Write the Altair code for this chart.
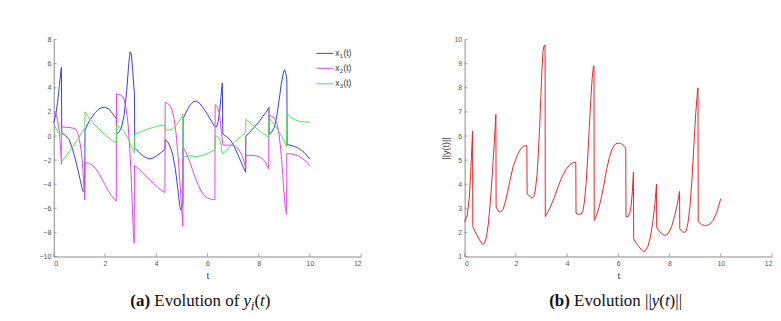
import altair as alt
import pandas as pd

# ---------------- data ----------------
t_x1 = [0, 0.08, 0.15, 0.22, 0.28, 0.30, 0.31, 0.45, 0.60, 0.72, 0.84, 0.95, 1.04, 1.10, 1.15, 1.19, 1.21,
        1.22, 1.40, 1.62, 1.80, 1.98, 2.15, 2.30, 2.44,
        2.45, 2.55, 2.65, 2.75, 2.85, 2.92, 2.98, 3.03, 3.08, 3.12, 3.15,
        3.16, 3.30, 3.45, 3.60, 3.75, 3.90, 4.05, 4.20, 4.34,
        4.35, 4.45, 4.55, 4.65, 4.75, 4.85, 4.92, 4.96, 5.00, 5.04,
        5.05, 5.15, 5.30, 5.45, 5.57, 5.70, 5.83, 6.00, 6.15, 6.28, 6.35, 6.42, 6.48, 6.53, 6.58,
        6.60, 6.75, 6.92, 7.05, 7.18, 7.30, 7.40, 7.49,
        7.50, 7.65, 7.83, 8.00, 8.15, 8.30, 8.40,
        8.41, 8.50, 8.61, 8.70, 8.80, 8.88, 8.96, 9.01, 9.06, 9.10,
        9.11, 9.30, 9.51, 9.77, 10.0]
v_x1 = [1.1, 1.8, 2.8, 4.2, 5.4, 5.7, 0.25, 0.05, -0.3, -1.0, -1.9, -2.9, -3.7, -4.3, -4.6, -4.6, -4.3,
        0.5, 1.3, 1.95, 2.3, 2.4, 2.25, 1.85, 1.45,
        0.1, 0.35, 0.75, 1.8, 3.8, 5.8, 7.0, 6.8, 5.5, 4.2, 3.6,
        -1.0, -1.3, -1.6, -1.8, -1.9, -1.8, -1.6, -1.35, -1.1,
        -0.3, -0.5, -0.9, -1.6, -2.8, -4.5, -5.8, -6.15, -5.9, -5.6,
        1.45, 1.9, 2.5, 2.85, 2.9, 2.7, 2.35, 1.8, 1.25, 0.8, 0.75, 1.2, 2.1, 3.3, 4.4,
        0.15, -0.05, -0.4, -0.9, -1.5, -2.1, -2.6, -3.0,
        0.0, 0.3, 0.75, 1.15, 1.6, 2.0, 2.38,
        0.15, 0.3, 0.7, 1.6, 3.0, 4.3, 5.2, 5.5, 5.2, 4.7,
        -0.7, -0.8, -0.95, -1.35, -1.9]

t_x2 = [0, 0.08, 0.15, 0.22, 0.27, 0.30,
        0.31, 0.50, 0.70, 0.84, 0.93, 1.00, 1.07, 1.12, 1.16, 1.19, 1.21,
        1.22, 1.35, 1.50, 1.65, 1.80, 1.95, 2.10, 2.25, 2.35, 2.44,
        2.45, 2.55, 2.65, 2.75, 2.83, 2.90, 2.96, 3.02, 3.07, 3.11, 3.14,
        3.15, 3.30, 3.45, 3.60, 3.75, 3.90, 4.05, 4.20, 4.34,
        4.35, 4.45, 4.55, 4.63, 4.70, 4.77, 4.84, 4.90, 4.96, 5.01, 5.04,
        5.05, 5.15, 5.25, 5.35, 5.45, 5.55, 5.65, 5.75, 5.88, 6.00, 6.15, 6.29,
        6.30, 6.38, 6.45, 6.50, 6.55, 6.60, 6.80, 7.00, 7.10, 7.20, 7.30, 7.40, 7.49,
        7.50, 7.70, 7.90, 8.05, 8.20, 8.30, 8.39,
        8.40, 8.50, 8.60, 8.70, 8.78, 8.85, 8.92, 8.98, 9.04, 9.09,
        9.10, 9.30, 9.50, 9.70, 9.85, 10.0]
v_x2 = [2.0, 1.9, 1.3, 0.3, -1.2, -2.35,
        0.75, 0.72, 0.68, 0.6, 0.3, -0.3, -1.2, -2.3, -3.6, -4.8, -5.3,
        -2.2, -2.25, -2.4, -2.75, -3.25, -3.85, -4.45, -4.95, -5.2, -5.4,
        3.5, 3.45, 3.35, 3.0, 2.2, 1.0, -0.8, -3.2, -6.0, -8.2, -8.9,
        -2.45, -2.7, -3.0, -3.35, -3.65, -3.95, -4.25, -4.5, -4.7,
        2.8, 2.7, 2.5, 2.1, 1.4, 0.3, -1.3, -3.0, -4.9, -6.6, -7.5,
        -0.95, -1.3, -1.8, -2.4, -3.0, -3.6, -4.1, -4.55, -4.95, -5.15, -5.25, -5.3,
        2.6, 2.45, 2.0, 1.3, 0.2, -0.75, -0.75, -0.78, -0.85, -1.05, -1.4, -1.9, -2.6,
        -1.6, -1.6, -1.65, -1.75, -2.0, -2.3, -2.75,
        1.7, 1.65, 1.5, 1.15, 0.4, -0.9, -2.6, -4.5, -6.0, -6.5,
        -1.45, -1.5, -1.6, -1.85, -2.1, -2.5]

t_x3 = [0, 0.10, 0.20, 0.30,
        0.31, 0.60, 0.90, 1.21,
        1.22, 1.40, 1.60, 1.80, 2.00, 2.20, 2.44,
        2.45, 2.60, 2.75, 2.90, 3.00, 3.08, 3.14,
        3.15, 3.40, 3.70, 4.00, 4.34,
        4.35, 4.50, 4.62, 4.75, 4.88, 5.00, 5.04,
        5.05, 5.30, 5.55, 5.75, 5.95, 6.15, 6.29,
        6.30, 6.42, 6.50, 6.58,
        6.60, 7.00, 7.49,
        7.50, 7.80, 8.10, 8.39,
        8.40, 8.60, 8.80, 8.95, 9.09,
        9.10, 9.25, 9.40, 9.60, 9.80, 10.0]
v_x3 = [0.95, 0.6, 0.2, 0.0,
        -2.15, -1.3, -0.4, 0.7,
        2.0, 1.45, 0.95, 0.5, 0.1, -0.25, -0.6,
        0.9, 0.7, 0.35, -0.2, -0.7, -1.15, -1.4,
        0.1, 0.35, 0.6, 0.8, 0.92,
        0.5, 0.5, 0.55, 0.8, 1.2, 1.6, 1.85,
        -1.75, -1.65, -1.7, -1.65, -1.5, -1.3, -1.15,
        0.05, -0.1, -0.4, -1.45,
        -1.5, -0.6, 0.3,
        1.4, 0.85, 0.3, -0.1,
        1.5, 1.0, 0.35, -0.2, -0.9,
        1.9, 1.55, 1.35, 1.22, 1.17, 1.15]

t_norm = [0, 0.10, 0.18, 0.24, 0.28, 0.31,
          0.32, 0.40, 0.50, 0.60, 0.70, 0.78, 0.85, 0.92, 1.00, 1.08, 1.15, 1.20, 1.22,
          1.23, 1.30, 1.40, 1.50, 1.60, 1.70, 1.80, 1.90, 2.00, 2.10, 2.20, 2.30, 2.43,
          2.44, 2.55, 2.63, 2.70, 2.76, 2.83, 2.88, 2.93, 2.98, 3.02, 3.06, 3.10, 3.14,
          3.15, 3.25, 3.35, 3.50, 3.65, 3.80, 3.95, 4.10, 4.20, 4.34,
          4.35, 4.45, 4.55, 4.62, 4.68, 4.74, 4.80, 4.86, 4.92, 4.98, 5.03, 5.05,
          5.06, 5.15, 5.25, 5.35, 5.45, 5.55, 5.65, 5.75, 5.85, 5.95, 6.05, 6.15, 6.29,
          6.30, 6.38, 6.45, 6.50, 6.55, 6.59,
          6.60, 6.70, 6.80, 6.90, 6.98, 7.05, 7.15, 7.25, 7.35, 7.43, 7.49,
          7.50, 7.60, 7.70, 7.80, 7.90, 8.00, 8.10, 8.20, 8.30, 8.39,
          8.40, 8.50, 8.58, 8.65, 8.72, 8.80, 8.88, 8.95, 9.02, 9.08, 9.11,
          9.12, 9.25, 9.40, 9.55, 9.70, 9.85, 10.0]
v_norm = [2.45, 2.7, 3.4, 4.5, 5.5, 6.2,
          2.25, 2.05, 1.85, 1.65, 1.5, 1.55, 1.8, 2.3, 3.2, 4.4, 5.6, 6.5, 6.9,
          3.05, 2.9, 2.84, 2.95, 3.3, 3.8, 4.3, 4.75, 5.05, 5.3, 5.48, 5.58, 5.6,
          3.6, 3.5, 3.42, 3.48, 3.75, 4.4, 5.3, 6.4, 7.7, 8.8, 9.5, 9.75, 9.78,
          2.66, 2.85, 3.05, 3.45, 3.9, 4.3, 4.6, 4.8, 4.88, 4.92,
          2.8, 2.75, 2.76, 2.9, 3.3, 4.0, 5.0, 6.2, 7.4, 8.4, 8.9, 8.92,
          2.5, 2.7, 3.05, 3.5, 4.05, 4.65, 5.1, 5.45, 5.63, 5.7, 5.7, 5.66, 5.5,
          2.66, 2.65, 2.8, 3.1, 3.7, 4.5,
          1.73, 1.55, 1.42, 1.28, 1.2, 1.23, 1.4, 1.8, 2.45, 3.2, 4.0,
          2.2, 2.05, 1.95, 1.88, 1.9, 2.05, 2.3, 2.7, 3.15, 3.7,
          2.15, 2.02, 2.0, 2.05, 2.4, 3.1, 4.3, 5.6, 6.9, 7.7, 8.0,
          2.45, 2.32, 2.28, 2.32, 2.5, 2.85, 3.4]

series_names = ["x1", "x2", "x3"]
legend_subscripts = ["1", "2", "3"]
series_colors = ["#3c3cd8", "#e845e8", "#55e055"]
norm_color = "#e4282c"

x_ticks_left = [0, 2, 4, 6, 8, 10, 12]
y_ticks_left = [-10, -8, -6, -4, -2, 0, 2, 4, 6, 8]
x_ticks_right = [0, 2, 4, 6, 8, 10, 12]
y_ticks_right = [1, 2, 3, 4, 5, 6, 7, 8, 9, 10]

# ---------------- tables ----------------
def mk(name, ts, vs):
    return pd.DataFrame({"t": ts, "v": vs, "series": name, "idx": list(range(len(ts)))})

lines_df = pd.concat([mk(n, t, v) for n, t, v in
                      zip(series_names, [t_x1, t_x2, t_x3], [v_x1, v_x2, v_x3])], ignore_index=True)
norm_df = mk("norm", t_norm, v_norm)

W, H = 309, 218
AXF = "Liberation Sans"
SERIF = "Liberation Serif"
AX_COLOR = "#8a8a8a"
LBL_COLOR = "#555555"

def axis(values, title=None, **kw):
    args = dict(values=values, ticks=False, grid=False, domainColor=AX_COLOR, labelColor=LBL_COLOR,
                labelFontSize=7, labelFont=AXF, labelPadding=3, titleFont=AXF, titleFontSize=10,
                titleFontWeight="normal", titleColor="#444444")
    args.update(kw)
    args["title"] = title if title is not None else None
    return alt.Axis(**args)

one = pd.DataFrame({"a": [0]})

SERIF_W = {
    "regular": {'(': 333, ')': 333, ' ': 250, 'E': 611, 'v': 500, 'o': 500, 'l': 278, 'u': 500,
                't': 278, 'i': 278, 'n': 500, 'f': 333, '|': 200},
    "bold": {'(': 333, ')': 333, 'a': 500, 'b': 556, ' ': 250},
    "italic": {'y': 444, 't': 278, 'i': 278},
}
SANS_W = {"regular": {'x': 500, '1': 556, '2': 556, '3': 556, '(': 333, ')': 333, 't': 278}}

def text_run(pieces, x0, y0, font, table, size, color, gap=0.0):
    layers = []
    x = x0
    for text, style, fs, dy in pieces:
        fs = fs or size
        w = sum(table[style].get(c, 500) for c in text) * fs / 1000.0
        stripped = text.lstrip()
        lead = sum(table[style].get(c, 500) for c in text[:len(text) - len(stripped)]) * fs / 1000.0
        shown = text.strip()
        if shown:
            mk_args = dict(text=shown, font=font, fontSize=fs, align="left", baseline="alphabetic",
                           color=color)
            if style == "bold":
                mk_args["fontWeight"] = "bold"
            if style == "italic":
                mk_args["fontStyle"] = "italic"
            layers.append(alt.Chart(one).mark_text(**mk_args).encode(
                x=alt.value(x + lead), y=alt.value(y0 + dy)))
        x += w + gap
    return layers

# ---------------- left panel ----------------
xl = alt.X("t:Q", scale=alt.Scale(domain=[0, 12], nice=False), axis=axis(x_ticks_left, "t", titlePadding=4))
yl = alt.Y("v:Q", scale=alt.Scale(domain=[-10, 8], nice=False), axis=axis(y_ticks_left))

lines = alt.Chart(lines_df).mark_line(strokeWidth=1).encode(
    x=xl, y=yl,
    color=alt.Color("series:N", scale=alt.Scale(domain=series_names, range=series_colors), legend=None),
    order="idx:Q")

xt_l = alt.Chart(pd.DataFrame({"t": x_ticks_left})).mark_rule(color=AX_COLOR, strokeWidth=0.8).encode(
    x=xl, y=alt.value(H), y2=alt.value(H - 3))
yt_l = alt.Chart(pd.DataFrame({"v": y_ticks_left})).mark_rule(color=AX_COLOR, strokeWidth=0.8).encode(
    y=yl, x=alt.value(0), x2=alt.value(3))

leg_layers = []
for i, (sub, col) in enumerate(zip(legend_subscripts, series_colors)):
    yy = [13.8, 28.8, 44.4][i]
    leg_layers.append(alt.Chart(one).mark_rule(color=col, strokeWidth=1).encode(
        x=alt.value(264), x2=alt.value(281), y=alt.value(yy)))
    leg_layers += text_run([("x", "regular", 8.5, 0), (sub, "regular", 6, 2), ("(t)", "regular", 8.5, 0)],
                           283, yy + 2.5, AXF, SANS_W, 8.5, "#333333", gap=0.3)

cap_a = [("(a)", "bold", None, 0), (" Evolution of ", "regular", None, 0), ("y", "italic", None, 0),
         ("i", "italic", 12, 4), ("(", "regular", None, 0), ("t", "italic", None, 0),
         (")", "regular", None, 0)]
cap_left = text_run(cap_a, 77, 268, SERIF, SERIF_W, 17, "#111111")

left = alt.layer(lines, xt_l, yt_l, *leg_layers, *cap_left).properties(width=W, height=H)

# ---------------- right panel ----------------
xr = alt.X("t:Q", scale=alt.Scale(domain=[0, 12], nice=False), axis=axis(x_ticks_right, "t", titlePadding=4))
yr = alt.Y("v:Q", scale=alt.Scale(domain=[1, 10], nice=False),
           axis=axis(y_ticks_right, "||y(t)||", titlePadding=3, titleFontSize=9))

norm_line = alt.Chart(norm_df).mark_line(strokeWidth=1, color=norm_color).encode(
    x=xr, y=yr, order="idx:Q")
xt_r = alt.Chart(pd.DataFrame({"t": x_ticks_right})).mark_rule(color=AX_COLOR, strokeWidth=0.8).encode(
    x=xr, y=alt.value(H), y2=alt.value(H - 3))
yt_r = alt.Chart(pd.DataFrame({"v": y_ticks_right})).mark_rule(color=AX_COLOR, strokeWidth=0.8).encode(
    y=yr, x=alt.value(0), x2=alt.value(3))

cap_b = [("(b)", "bold", None, 0), (" Evolution ", "regular", None, 0), ("|", "regular", None, 0),
         ("|", "regular", None, 0), ("y", "italic", None, 0), ("(", "regular", None, 0),
         ("t", "italic", None, 0), (")", "regular", None, 0), ("|", "regular", None, 0),
         ("|", "regular", None, 0)]
cap_right = text_run(cap_b, 85, 268, SERIF, SERIF_W, 17, "#111111")

right = alt.layer(norm_line, xt_r, yt_r, *cap_right).properties(width=W, height=H)

chart = alt.hconcat(left, right, spacing=80).properties(
    padding={"left": 31, "top": 27, "right": 0, "bottom": 0}
).configure_view(stroke=None)

chart.save("out.html", embed_options={"renderer": "svg", "actions": False})
